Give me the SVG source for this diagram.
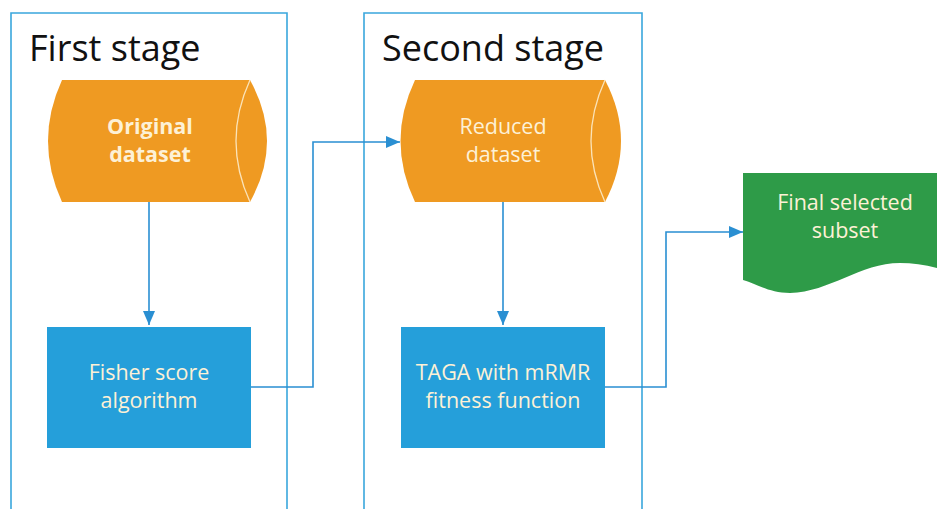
<svg xmlns="http://www.w3.org/2000/svg" width="937" height="509" viewBox="0 0 937 509">
<defs>
<style>
.panel{fill:none;stroke:#3aa7dd;stroke-width:1.6}
.title{font-family:"Segoe UI","Open Sans",sans-serif;font-size:36px;fill:#111}
.lbl{font-family:"Segoe UI","Open Sans",sans-serif;font-size:21.5px;fill:#fdf1d6;text-anchor:middle}
.bold{font-weight:bold}
.cyl{fill:#ef9a22}
.cylEdge{fill:none;stroke:#fbe3b8;stroke-width:1.3}
.box{fill:#259fda}
.doc{fill:#2e9b48}
.conn{fill:none;stroke:#2a8fd2;stroke-width:1.6}
</style>
<marker id="arrL" viewBox="0 0 14 12" refX="14" refY="6" markerWidth="14" markerHeight="12" markerUnits="userSpaceOnUse" orient="auto">
<path d="M0,0 L14,6 L0,12 Z" fill="#2a8fd2"/>
</marker>
</defs>
<rect width="937" height="509" fill="#ffffff"/>
<g id="first-stage">
<path class="panel" d="M11,515 V13 H287 V515"/>
<text class="title" x="29" y="61">First stage</text>
</g>
<g id="second-stage">
<path class="panel" d="M364,515 V13 H642 V515"/>
<text class="title" x="382" y="61">Second stage</text>
</g>
<g id="connectors">
<path class="conn" d="M149,202 V325" marker-end="url(#arrL)"/>
<path class="conn" d="M251,387 H313 V142 H400" marker-end="url(#arrL)"/>
<path class="conn" d="M503,202 V325" marker-end="url(#arrL)"/>
<path class="conn" d="M605,387 H666 V232 H743" marker-end="url(#arrL)"/>
</g>
<g id="original-dataset">
<path class="cyl" d="M62,80 H250 Q284,141 250,202 H62 Q34,141 62,80 Z"/>
<path class="cylEdge" d="M250,80 Q222,141 250,202"/>
<text class="lbl bold" x="150" y="134">Original</text>
<text class="lbl bold" x="150" y="162">dataset</text>
</g>
<g id="reduced-dataset">
<path class="cyl" d="M415,80 H605 Q637,141 605,202 H415 Q386,141 415,80 Z"/>
<path class="cylEdge" d="M605,80 Q577,141 605,202"/>
<text class="lbl" x="503" y="134">Reduced</text>
<text class="lbl" x="503" y="162">dataset</text>
</g>
<g id="fisher">
<rect class="box" x="47" y="327" width="204" height="121"/>
<text class="lbl" x="149" y="380">Fisher score</text>
<text class="lbl" x="149" y="408">algorithm</text>
</g>
<g id="taga">
<rect class="box" x="401" y="327" width="204" height="121"/>
<text class="lbl" x="503" y="380">TAGA with mRMR</text>
<text class="lbl" x="503" y="408">fitness function</text>
</g>
<g id="final-subset">
<path class="doc" d="M743,173 H937 V268 Q918,263 900,263 C860,263 830,292 790,293 C768,293 755,283 743,280 Z"/>
<text class="lbl" x="845" y="210">Final selected</text>
<text class="lbl" x="845" y="238">subset</text>
</g>
</svg>
